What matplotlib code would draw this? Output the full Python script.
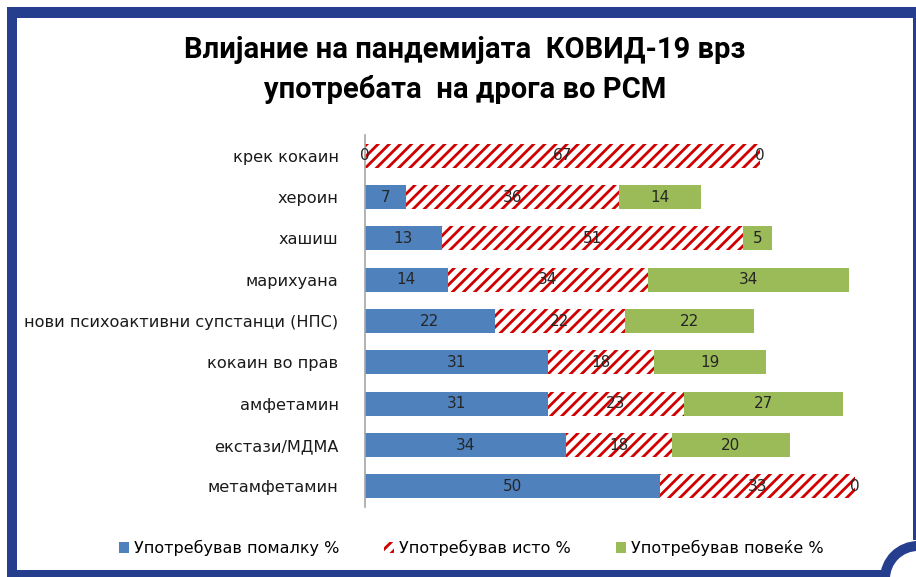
import numpy as np
import matplotlib
matplotlib.use("Agg")
import matplotlib.pyplot as plt
from matplotlib import patches

# Податоци
categories = ['крек кокаин', 'хероин', 'хашиш', 'марихуана',
              'нови психоактивни супстанци (НПС)', 'кокаин во прав',
              'амфетамин', 'екстази/МДМА', 'метамфетамин']
less_vals = [0, 7, 13, 14, 22, 31, 31, 34, 50]
same_vals = [67, 36, 51, 34, 22, 18, 23, 18, 33]
more_vals = [0, 14, 5, 34, 22, 19, 27, 20, 0]
series_names = ['Употребував помалку %', 'Употребував исто %', 'Употребував повеќе %']
title_text = 'Влијание на пандемијата  КОВИД-19 врз\nупотребата  на дрога во РСМ'

blue = '#4F81BD'
red = '#D00000'
green = '#9BBB59'
frame = '#253F8E'

plt.rcParams['hatch.linewidth'] = 2.0
plt.rcParams['font.family'] = ['DejaVu Sans']

fig = plt.figure(figsize=(9.16, 5.77), dpi=100)
ax = fig.add_axes([365 / 916, 1 - 507 / 577, 531 / 916, 372 / 577])

y = np.arange(len(categories))
less = np.array(less_vals)
same = np.array(same_vals)
more = np.array(more_vals)
h = 0.58

b1 = ax.barh(y, less, height=h, color=blue, linewidth=0, label=series_names[0])
b2 = ax.barh(y, same, left=less, height=h, facecolor='white', edgecolor=red,
             hatch='///', linewidth=0, label=series_names[1])
b3 = ax.barh(y, more, left=less + same, height=h, color=green, linewidth=0,
             label=series_names[2])

# етикети со вредности
for vals, lefts in [(less, np.zeros_like(less)), (same, less), (more, less + same)]:
    for i in range(len(categories)):
        ax.text(lefts[i] + vals[i] / 2, y[i], str(vals[i]), ha='center', va='center',
                fontsize=11, color='#262626', zorder=5)

ax.set_xlim(0, 90)
ax.set_ylim(len(categories) - 0.5, -0.5)
ax.set_yticks(y)
ax.set_yticklabels(categories, fontsize=11.6, color='#1a1a1a')
ax.tick_params(axis='y', length=0, pad=19)
ax.set_xticks([])
for s in ['top', 'right', 'bottom']:
    ax.spines[s].set_visible(False)
ax.spines['left'].set_color('#A6A6A6')
ax.spines['left'].set_linewidth(1.2)

fig.text(465 / 916, 1 - 70 / 577, title_text, ha='center', va='center',
         fontsize=21, fontweight='bold', linespacing=1.5,
         family=['Roboto', 'DejaVu Sans'])

leg = fig.legend(handles=[b1, b2, b3], labels=series_names, loc='center',
                 bbox_to_anchor=(471 / 916, 1 - 548 / 577), ncol=3, frameon=False,
                 handlelength=0.65, handleheight=0.65,
                 handletextpad=0.3, columnspacing=2.8,
                 prop={'family': ['DejaVu Sans'], 'size': 11.5})

# рамка
ov = fig.add_axes([0, 0, 1, 1], facecolor='none')
ov.set_xlim(0, 916)
ov.set_ylim(577, 0)
ov.axis('off')
ov.add_patch(patches.Rectangle((7, 7), 909, 11, color=frame, lw=0))
ov.add_patch(patches.Rectangle((7, 7), 10, 570, color=frame, lw=0))
ov.add_patch(patches.Rectangle((7, 570), 877, 7, color=frame, lw=0))
ov.add_patch(patches.Rectangle((913, 7), 3, 533, color=frame, lw=0))
ov.add_patch(patches.Wedge((918, 579), 38, 180, 270, width=10, color=frame, lw=0))

plt.savefig('out.png', dpi=100)
